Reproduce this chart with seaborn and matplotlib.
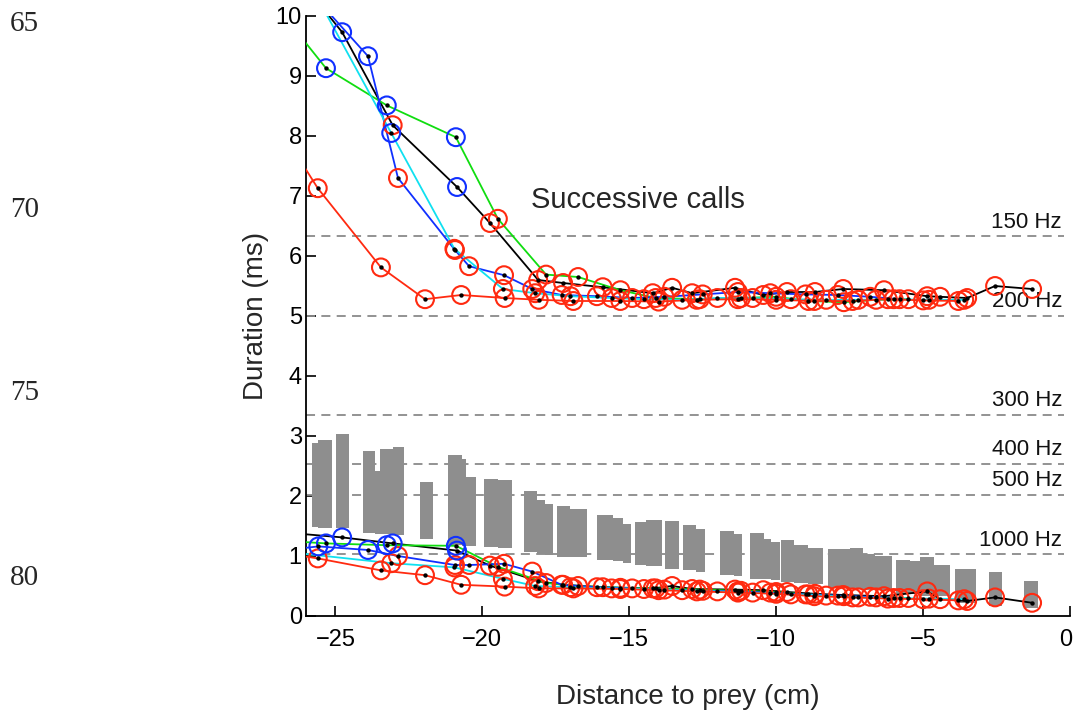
import numpy as np
import pandas as pd
import matplotlib
matplotlib.use("Agg")
import matplotlib.pyplot as plt
import matplotlib.transforms as mtransforms
import seaborn as sns

# ---------------- data ----------------
black_x = [-26.20, -24.77, -23.05, -20.86, -19.74, -18.10, -17.25, -15.90, -14.20, -13.54, -12.86,
           -11.40, -10.44, -9.63, -8.68, -7.72, -6.33, -4.86, -4.42, -3.50, -2.55, -1.29]
black_dur = [10.60, 9.73, 8.18, 7.15, 6.55, 5.60, 5.55, 5.48, 5.38, 5.47, 5.38,
             5.47, 5.35, 5.40, 5.40, 5.45, 5.43, 5.33, 5.32, 5.30, 5.50, 5.45]
black_low = [1.37, 1.31, 1.21, 1.09, 0.84, 0.58, 0.52, 0.48, 0.46, 0.50, 0.45,
             0.44, 0.43, 0.40, 0.37, 0.35, 0.33, 0.41, 0.28, 0.25, 0.31, 0.22]
black_ring_dur = "-brbrrrrrrrrrrrrrrrrrr"
black_ring_low = "-bbbrrrrrrrrrrrrrrrrrr"

green_x = [-26.30, -25.32, -23.25, -20.90, -19.47, -17.83, -16.74, -15.30, -14.10, -12.60, -11.20,
           -10.00, -8.90, -7.70, -6.60, -5.50]
green_dur = [9.73, 9.13, 8.51, 7.98, 6.62, 5.69, 5.65, 5.43, 5.30, 5.28, 5.30,
             5.32, 5.25, 5.23, 5.27, 5.28]
green_low = [1.24, 1.21, 1.18, 1.17, 0.82, 0.55, 0.50, 0.47, 0.46, 0.44, 0.42,
             0.40, 0.36, 0.33, 0.31, 0.30]
green_ring_dur = "-bbbrrrrrrrrrrrr"
green_ring_low = "-bbbrrrrrrrrrrrr"

blue_x = [-26.30, -25.58, -23.89, -22.87, -20.93, -20.45, -19.26, -18.30, -17.30, -16.10, -14.90,
          -13.80, -12.50, -11.30, -10.20, -9.00, -7.90, -6.80, -5.80]
blue_dur = [11.00, 10.25, 9.33, 7.30, 6.10, 5.83, 5.68, 5.45, 5.35, 5.33, 5.30,
            5.32, 5.36, 5.40, 5.38, 5.36, 5.35, 5.32, 5.28]
blue_low = [1.12, 1.16, 1.10, 1.00, 0.85, 0.85, 0.87, 0.74, 0.52, 0.48, 0.46,
            0.44, 0.42, 0.41, 0.39, 0.36, 0.34, 0.32, 0.30]
blue_ring_dur = "-bbrrrrrrrrrrrrrrrr"
blue_ring_low = "-bbrrrrrrrrrrrrrrrr"

cyan_x = [-26.50, -23.10, -20.95, -19.30, -18.20, -17.00, -15.60, -14.50, -13.20, -12.00, -10.80,
          -9.50, -8.30, -7.20, -6.00, -4.80, -3.60]
cyan_dur = [11.10, 8.05, 6.12, 5.45, 5.38, 5.33, 5.30, 5.28, 5.27, 5.30, 5.30,
            5.28, 5.27, 5.27, 5.28, 5.27, 5.27]
cyan_low = [1.06, 0.88, 0.81, 0.62, 0.50, 0.48, 0.46, 0.45, 0.43, 0.41, 0.39,
            0.36, 0.34, 0.31, 0.30, 0.29, 0.28]
cyan_ring_dur = "-brrrrrrrrrrrrrrr"
cyan_ring_low = "-rrrrrrrrrrrrrrrr"

red_x = [-26.40, -25.60, -23.45, -21.95, -20.72, -19.24, -18.08, -16.90, -15.30, -14.00, -12.70,
         -11.30, -10.00, -8.70, -7.40, -6.20, -5.00, -3.80]
red_dur = [7.75, 7.13, 5.81, 5.28, 5.35, 5.30, 5.27, 5.25, 5.25, 5.24, 5.27,
           5.28, 5.27, 5.25, 5.25, 5.28, 5.26, 5.25]
red_low = [1.02, 0.96, 0.76, 0.68, 0.52, 0.49, 0.46, 0.46, 0.45, 0.43, 0.41,
           0.39, 0.37, 0.33, 0.31, 0.29, 0.28, 0.26]
red_ring_dur = "-rrrrrrrrrrrrrrrrr"
red_ring_low = "-rrrrrrrrrrrrrrrrr"

bar_left = [-25.81, -25.60, -24.98, -24.07, -23.65, -23.48, -23.03, -22.12, -21.17, -20.70, -20.55,
            -19.94, -19.45, -18.57, -18.15, -17.87, -17.47, -17.01, -16.11, -15.56, -15.20,
            -14.80, -14.43, -13.78, -13.17, -12.72, -11.90, -11.45, -10.88, -10.43, -10.18,
            -9.84, -9.39, -8.93, -8.25, -7.48, -7.05, -6.63, -5.92, -5.46, -5.10, -4.64,
            -3.93, -2.77, -1.56]
bar_right = [-25.60, -25.13, -24.53, -23.65, -23.48, -23.03, -22.67, -21.67, -20.70, -20.55, -20.21,
             -19.45, -19.00, -18.15, -17.87, -17.58, -17.01, -16.45, -15.56, -15.20, -14.95,
             -14.43, -13.89, -13.32, -12.72, -12.41, -11.45, -11.16, -10.43, -10.18, -9.88,
             -9.39, -8.93, -8.41, -7.48, -7.05, -6.63, -6.06, -5.46, -5.10, -4.64, -4.08,
             -3.19, -2.32, -1.10]
bar_low = [1.48, 1.46, 1.46, 1.38, 1.37, 1.36, 1.35, 1.28, 1.18, 1.17, 1.16,
           1.15, 1.13, 1.06, 1.04, 1.02, 0.99, 0.98, 0.93, 0.91, 0.89,
           0.85, 0.83, 0.79, 0.76, 0.74, 0.68, 0.67, 0.62, 0.61, 0.60,
           0.57, 0.55, 0.53, 0.46, 0.45, 0.44, 0.43, 0.37, 0.36, 0.34, 0.33,
           0.22, 0.17, 0.14]
bar_high = [2.88, 2.93, 3.03, 2.75, 2.41, 2.79, 2.81, 2.24, 2.68, 2.61, 2.31,
            2.29, 2.26, 2.08, 1.93, 1.87, 1.83, 1.78, 1.69, 1.64, 1.54,
            1.56, 1.60, 1.59, 1.51, 1.45, 1.41, 1.37, 1.39, 1.28, 1.24,
            1.26, 1.18, 1.13, 1.11, 1.13, 1.04, 1.00, 0.94, 0.92, 0.98, 0.85,
            0.78, 0.74, 0.59]

hz_levels = [6.33, 5.00, 3.35, 2.54, 2.02, 1.03]
hz_labels = ["150 Hz", "200 Hz", "300 Hz", "400 Hz", "500 Hz", "1000 Hz"]

x_ticks = [-25, -20, -15, -10, -5, 0]
y_ticks = [0, 1, 2, 3, 4, 5, 6, 7, 8, 9, 10]
line_numbers = ["65", "70", "75", "80"]

# ---------------- build table ----------------
series = {
    "black": (black_x, black_dur, black_low, black_ring_dur, black_ring_low),
    "green": (green_x, green_dur, green_low, green_ring_dur, green_ring_low),
    "blue": (blue_x, blue_dur, blue_low, blue_ring_dur, blue_ring_low),
    "cyan": (cyan_x, cyan_dur, cyan_low, cyan_ring_dur, cyan_ring_low),
    "red": (red_x, red_dur, red_low, red_ring_dur, red_ring_low),
}
rows = []
for name, (xs, du, lo, rd, rl) in series.items():
    assert len(xs) == len(du) == len(lo) == len(rd) == len(rl), name
    for i in range(len(xs)):
        rows.append(dict(series=name, x=xs[i], dur=du[i], low=lo[i], rdur=rd[i], rlow=rl[i]))
df = pd.DataFrame(rows)
assert len(bar_left) == len(bar_right) == len(bar_low) == len(bar_high)

palette = {"black": "#000000", "green": "#10dd10", "blue": "#1030ff",
           "cyan": "#10e0f0", "red": "#ff2a10"}
ring_colors = {"r": "#ff2a10", "b": "#1030ff"}

# ---------------- figure ----------------
sns.set_theme(style="ticks")
plt.rcParams["font.family"] = ["Liberation Sans", "DejaVu Sans"]

W, H = 1073, 713
fig = plt.figure(figsize=(W / 100, H / 100), dpi=100)
ax = fig.add_axes([306 / W, 1 - 616 / H, (1070 - 306) / W, 600 / H])

# reference dashed frequency lines
for lvl, lab in zip(hz_levels, hz_labels):
    ax.plot([-26, -0.2], [lvl, lvl], ls=(0, (5, 3.5)), color="#8a8a8a", lw=1.3, zorder=1)
    ax.text(-0.27, lvl + 0.06, lab, ha="right", va="bottom", fontsize=16, color="#111111",
            zorder=2)

# gray bars
widths = np.array(bar_right) - np.array(bar_left)
heights = np.array(bar_high) - np.array(bar_low)
ax.bar(bar_left, heights, width=widths, bottom=bar_low, align="edge",
       color="#8e8e8e", edgecolor="none", linewidth=0, zorder=2)

# lines (upper: duration, lower)
order = ["black", "green", "blue", "cyan", "red"]
for col in ["dur", "low"]:
    sns.lineplot(data=df, x="x", y=col, hue="series", hue_order=order, palette=palette,
                 estimator=None, sort=False, legend=False, linewidth=1.3, ax=ax, zorder=3)

# rings and dots
for col, rcol in [("dur", "rdur"), ("low", "rlow")]:
    for key, c in ring_colors.items():
        sub = df[df[rcol] == key]
        ax.scatter(sub["x"], sub[col], s=165, facecolors="none", edgecolors=c,
                   linewidths=1.5, zorder=4)
    ax.scatter(df["x"], df[col], s=10, color="black", linewidths=0, zorder=5)

ax.text(-18.34, 6.93, "Successive calls", ha="left", va="center", fontsize=21)

ax.set_xlim(-26, 0)
ax.set_ylim(0, 10)
ax.set_xticks(x_ticks)
ax.set_yticks(y_ticks)
ax.set_xticklabels(["\u2212" + str(abs(t)) if t < 0 else str(t) for t in x_ticks])
ax.set_yticklabels([str(t) for t in y_ticks])
ax.tick_params(direction="in", length=7, width=1.2, labelsize=17, colors="black")
ax.tick_params(axis="x", pad=9)
ax.tick_params(axis="y", pad=3)
# keep the last x tick label ("0") inside the canvas
last = ax.get_xticklabels()[-1]
last.set_transform(last.get_transform() +
                   mtransforms.ScaledTranslation(-4 / 100, 0, fig.dpi_scale_trans))
sns.despine(ax=ax)
for s in ["left", "bottom"]:
    ax.spines[s].set_linewidth(1.3)
    ax.spines[s].set_color("black")
ax.set_xlabel("Distance to prey (cm)", fontsize=20, labelpad=24)
ax.set_ylabel("Duration (ms)", fontsize=20, labelpad=5)
ax.set_facecolor("white")

# manuscript line numbers
for lab, yc in zip(line_numbers, [24, 210, 393, 578]):
    fig.text(10 / W, 1 - yc / H, lab, ha="left", va="center", fontsize=21,
             family=["Liberation Serif", "DejaVu Serif"])

fig.savefig("out.png", dpi=100, facecolor="white")
